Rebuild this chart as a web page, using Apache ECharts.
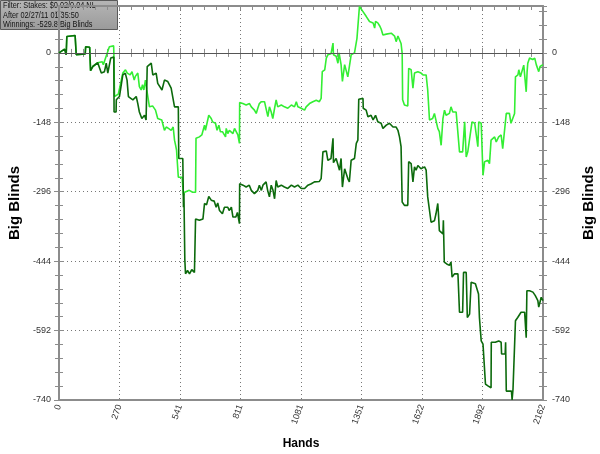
<!DOCTYPE html>
<html>
<head>
<meta charset="utf-8">
<script src="https://cdn.jsdelivr.net/npm/echarts@6/dist/echarts.min.js"></script>
<style>html,body{margin:0;padding:0;background:#fff}#c{width:600px;height:454px}</style>
</head>
<body>
<div id="c"></div>
<script>
// ---- data ----
const xTickLabels = ['0','270','541','811','1081','1351','1622','1892','2162'];
const yTickLabels = ['-740','-592','-444','-296','-148','0'];
const infoLines = ['Filter: Stakes: $0.02/0.04 NL','After 02/27/11 01:35:50','Winnings: -529.8 Big Blinds'];

const lightHands = [0,25,30,32,35,72,75,77,117,119,137,141,151,173,180,193,198,208,215,225,
233,244,245,248,255,265,270,285,297,305,318,326,336,341,352,359,367,373,379,386,
392,404,418,431,441,448,459,471,479,489,501,510,516,521,525,531,533,550,556,561,
568,582,597,610,612,627,638,650,654,669,680,686,699,706,714,721,730,744,747,754,
761,769,777,784,799,806,807,821,836,851,859,873,881,888,895,904,918,926,933,940,
948,955,963,970,977,993,1007,1022,1038,1052,1060,1067,1082,1097,1104,1119,1134,1149,1163,1171,
1176,1187,1194,1201,1215,1224,1226,1238,1246,1251,1257,1260,1266,1276,1283,1290,1297,1305,1320,1328,
1331,1339,1342,1349,1358,1372,1380,1387,1403,1410,1414,1424,1432,1439,1447,1462,1469,1484,1492,1499,
1506,1514,1521,1528,1533,1535,1543,1558,1562,1573,1581,1588,1595,1603,1617,1626,1633,1640,1647,1655,
1669,1677,1684,1692,1699,1707,1715,1722,1729,1744,1751,1759,1767,1774,1782,1789,1803,1812,1819,1826,
1834,1845,1857,1864,1871,1875,1886,1894,1901,1916,1923,1930,1946,1953,1964,1975,1982,1990,1998,2012,
2019,2027,2035,2039,2050,2054,2061,2069,2076,2084,2087,2091,2094,2102,2116,2125,2132,2139,2143,2149,
2154,2162];
const lightBB = [0,8,8,-4,35,37,36,-4,-2,13,12,-38,-29,-21,-19,-19,-25,-11,-11,13,
17,15,0,-93,-95,-88,-90,-43,-36,-43,-47,-40,-58,-50,-43,-72,-79,-68,-79,-58,
-79,-115,-113,-122,-140,-136,-143,-165,-158,-161,-165,-158,-186,-197,-207,-207,-265,-265,-304,-297,
-293,-293,-297,-297,-182,-179,-175,-154,-165,-133,-140,-147,-150,-165,-154,-168,-168,-179,-161,-172,
-165,-168,-172,-161,-175,-193,-106,-108,-111,-108,-115,-122,-129,-118,-108,-104,-104,-108,-136,-115,
-126,-140,-118,-100,-115,-111,-115,-118,-111,-115,-104,-115,-118,-122,-115,-108,-104,-101,-104,-97,
-40,-36,-11,-4,-2,21,-4,-7,-22,0,-2,-25,-61,-25,-29,-51,-47,-4,0,0,
31,33,99,99,88,78,74,67,64,53,67,64,58,51,38,40,42,42,40,36,
24,36,33,20,-1,-100,-111,-113,-33,-36,-75,-43,-47,-40,-43,-47,-43,-47,-79,-143,
-140,-129,-133,-161,-168,-197,-140,-122,-133,-129,-115,-126,-129,-126,-129,-211,-211,-147,-222,-211,
-208,-147,-150,-150,-200,-147,-150,-261,-232,-229,-236,-186,-179,-190,-179,-175,-204,-208,-129,-129,
-150,-147,-129,-51,-47,-36,-51,-47,-26,-29,-83,-40,-22,-11,-14,-11,-25,-22,-40,-29,
-33,-25];

const darkHands = [0,25,30,32,35,72,75,77,117,119,137,141,151,173,180,189,203,211,218,231,
245,246,255,256,270,285,296,304,310,330,345,352,359,370,382,389,394,412,419,434,
441,460,471,486,493,501,516,533,535,553,556,558,562,565,574,583,593,605,610,627,
643,650,659,669,680,693,702,709,717,730,739,747,754,760,770,777,790,797,806,807,
822,836,850,859,873,880,888,895,904,911,925,932,940,948,956,963,970,977,993,1007,
1022,1038,1052,1067,1074,1082,1097,1112,1127,1141,1163,1171,1179,1194,1201,1215,1224,1226,1238,1246,
1253,1260,1266,1276,1283,1290,1297,1305,1320,1328,1335,1339,1358,1359,1372,1380,1394,1403,1414,1424,
1439,1447,1462,1476,1492,1506,1514,1521,1528,1533,1543,1558,1562,1573,1581,1588,1595,1603,1617,1633,
1640,1647,1655,1662,1677,1684,1692,1695,1699,1715,1717,1721,1732,1744,1751,1756,1767,1774,1782,1789,
1803,1807,1819,1824,1834,1841,1860,1867,1874,1878,1886,1894,1901,1905,1916,1930,1931,1949,1957,1964,
1975,1977,1993,1995,1998,2021,2024,2028,2035,2039,2049,2057,2064,2072,2080,2087,2090,2102,2117,2127,
2135,2139,2143,2154,2162];
const darkBB = [0,8,8,-4,35,37,36,-4,-2,13,12,-38,-29,-21,-19,-43,-40,-22,-43,-11,
-9,-126,-126,-100,-93,-47,-43,-58,-93,-100,-93,-108,-126,-140,-133,-143,-29,-22,-47,-43,
-65,-79,-58,-61,-58,-75,-115,-115,-225,-225,-329,-300,-440,-471,-464,-471,-462,-468,-354,-357,
-354,-321,-324,-306,-314,-316,-329,-320,-336,-343,-329,-332,-329,-336,-329,-350,-350,-340,-364,-279,
-282,-286,-282,-293,-300,-296,-293,-282,-293,-282,-275,-293,-307,-282,-293,-311,-272,-286,-282,-286,
-289,-282,-286,-282,-279,-289,-289,-282,-279,-275,-274,-268,-211,-209,-229,-225,-182,-234,-225,-229,
-250,-225,-286,-247,-250,-268,-275,-229,-225,-193,-186,-99,-97,-118,-122,-136,-133,-143,-133,-147,
-150,-161,-154,-150,-158,-158,-165,-179,-200,-318,-325,-325,-232,-236,-275,-243,-250,-240,-247,-243,
-250,-307,-307,-361,-358,-343,-321,-343,-379,-386,-357,-446,-450,-453,-446,-478,-471,-475,-471,-553,
-553,-468,-468,-564,-557,-489,-492,-496,-514,-564,-614,-621,-617,-706,-710,-714,-617,-617,-621,-614,
-617,-642,-642,-617,-721,-721,-740,-717,-721,-571,-564,-560,-553,-550,-553,-607,-507,-507,-510,-517,
-514,-528,-542,-521,-528];

// ---- build ----
const zip = (a, b) => a.slice(0, Math.min(a.length, b.length)).map((h, i) => [h, b[i]]);
const X_MAX = 2162, X_STEP = X_MAX / 8, X_MINOR = X_STEP / 5;
const Y_MIN = -740, Y_MAX = 100, Y_STEP = 148, Y_MINOR = Y_STEP / 5;
const AX = '#8c8c8c';
const lblFont = {fontFamily: 'Liberation Sans, Arial', fontSize: 9, color: '#333'};

function tickAxis(base, pos, interval, len, inside, extra) {
  return Object.assign({
    type: 'value', position: pos, interval: interval, gridIndex: 0,
    axisLine: {show: false}, axisLabel: {show: false}, splitLine: {show: false},
    axisTick: {show: true, inside: inside, length: len, lineStyle: {color: AX, width: 1}}
  }, base, extra || {});
}
const xb = {min: 0, max: X_MAX};
const yb = {min: Y_MIN, max: Y_MAX};
const yFmt = v => { const i = Math.round((v - Y_MIN) / Y_STEP); return Math.abs(v - (Y_MIN + i * Y_STEP)) < 1e-6 ? (yTickLabels[i] ?? '') : ''; };
const nameStyle = sz => ({fontFamily: 'Liberation Sans, Arial', fontWeight: 'bold', fontSize: sz, color: '#000'});

const chart = echarts.init(document.getElementById('c'), null, {renderer: 'canvas'});
chart.setOption({
  animation: false,
  backgroundColor: '#fff',
  grid: {left: 59, right: 57, top: 6, bottom: 54, containLabel: false, outerBoundsMode: 'none'},
  xAxis: [
    Object.assign({type: 'value', position: 'bottom', interval: X_STEP,
      name: 'Hands', nameLocation: 'middle', nameGap: 38, nameTextStyle: nameStyle(12),
      axisLine: {show: true, onZero: false, lineStyle: {color: AX, width: 2}},
      axisTick: {show: false},
      axisLabel: Object.assign({rotate: 70, margin: 5,
        formatter: v => { const i = Math.round(v / X_STEP); return xTickLabels[i] ?? ''; }}, lblFont),
      splitLine: {show: true, lineStyle: {type: [1, 3], color: '#777', width: 1}}
    }, xb),
    tickAxis(xb, 'bottom', X_STEP, 5, false),
    tickAxis(xb, 'bottom', X_STEP, 5, true),
    tickAxis(xb, 'bottom', X_MINOR, 4, false),
    tickAxis(xb, 'bottom', X_MINOR, 4, true),
    tickAxis(xb, 'top', X_MINOR, 4, true, {axisLine: {show: true, onZero: false, lineStyle: {color: AX, width: 2}}})
  ],
  yAxis: [
    Object.assign({type: 'value', position: 'left', interval: Y_STEP,
      name: 'Big Blinds', nameLocation: 'middle', nameGap: 36, nameTextStyle: nameStyle(15),
      axisLine: {show: true, onZero: false, lineStyle: {color: AX, width: 2}},
      axisTick: {show: false},
      axisLabel: Object.assign({margin: 8, showMaxLabel: false, formatter: yFmt}, lblFont),
      splitLine: {show: true, lineStyle: {type: [1, 3], color: '#777', width: 1}}
    }, yb),
    tickAxis(yb, 'left', Y_STEP, 5, false),
    tickAxis(yb, 'left', Y_STEP, 5, true),
    tickAxis(yb, 'left', Y_MINOR, 4, false),
    tickAxis(yb, 'left', Y_MINOR, 4, true),
    Object.assign({type: 'value', position: 'right', interval: Y_STEP,
      name: 'Big Blinds', nameLocation: 'middle', nameGap: 38, nameTextStyle: nameStyle(15),
      axisLine: {show: true, onZero: false, lineStyle: {color: AX, width: 2}},
      axisTick: {show: false},
      axisLabel: Object.assign({margin: 9, showMaxLabel: false, formatter: yFmt}, lblFont),
      splitLine: {show: false}
    }, yb),
    tickAxis(yb, 'right', Y_STEP, 5, false),
    tickAxis(yb, 'right', Y_STEP, 5, true),
    tickAxis(yb, 'right', Y_MINOR, 4, false),
    tickAxis(yb, 'right', Y_MINOR, 4, true)
  ],
  graphic: [{
    type: 'group', left: 0, top: 0, z: 100,
    children: [
      {type: 'rect', shape: {x: 0.5, y: 0.5, width: 117, height: 29},
        style: {fill: new echarts.graphic.LinearGradient(0, 0, 0, 1, [{offset: 0, color: '#b6b6b6'}, {offset: 1, color: '#9a9a9a'}]),
          stroke: '#5a5a5a', lineWidth: 1}},
      {type: 'text', x: 3, y: 1, scaleX: 0.77, style: {text: infoLines.join('\n'), font: '9.5px "Liberation Sans", Arial', fill: '#141414', lineHeight: 9.4}}
    ]
  }],
  series: [
    {type: 'line', name: 'light', xAxisIndex: 0, yAxisIndex: 0, data: zip(lightHands, lightBB),
      showSymbol: false, symbol: 'none', lineStyle: {color: '#33ee33', width: 1.6}, z: 3},
    {type: 'line', name: 'dark', xAxisIndex: 0, yAxisIndex: 0, data: zip(darkHands, darkBB),
      showSymbol: false, symbol: 'none', lineStyle: {color: '#0c6a0c', width: 1.6}, z: 4,
      markLine: {silent: true, symbol: 'none', label: {show: false},
        lineStyle: {type: 'solid', color: '#555', width: 1.2}, data: [{yAxis: 0}]}}
  ]
});
</script>
</body>
</html>
